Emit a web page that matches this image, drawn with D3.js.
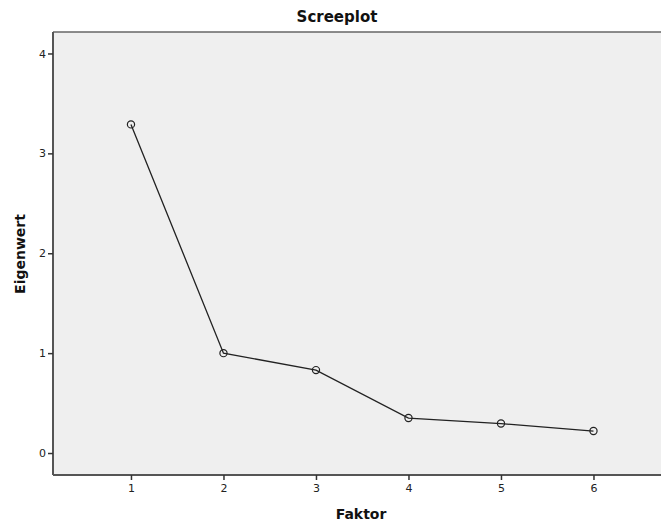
<!DOCTYPE html>
<html>
<head>
<meta charset="utf-8">
<script src="https://cdn.jsdelivr.net/npm/d3@7"></script>
<style>
  body { margin: 0; background: #fff; }
  svg { display: block; font-family: "DejaVu Sans", sans-serif; }
</style>
</head>
<body>
<svg id="chart" width="661" height="524"></svg>
<script>
const factors = [1, 2, 3, 4, 5, 6];
const eigenvalues = [3.29, 1.0, 0.83, 0.35, 0.295, 0.22];
const yTicks = [0, 1, 2, 3, 4];

const w = 661, h = 524;
const margin = {top: 32, right: 0, bottom: 49, left: 53};
const innerW = w - margin.left - margin.right;
const innerH = h - margin.top - margin.bottom;

const svg = d3.select('#chart');

const x = d3.scaleLinear().domain([0.157, 6.73]).range([0, innerW]);
const y = d3.scaleLinear().domain([-0.22, 4.215]).range([innerH, 0]);

const g = svg.append('g').attr('transform', `translate(${margin.left},${margin.top})`);

// plot background
g.append('rect')
    .attr('width', innerW + 2)
    .attr('height', innerH)
    .attr('fill', '#efefef');

// top frame line
g.append('line')
    .attr('x1', 0).attr('x2', innerW + 2)
    .attr('y1', 0).attr('y2', 0)
    .attr('stroke', '#666').attr('stroke-width', 1.5);

// axes
const xAxis = g.append('g')
    .attr('transform', `translate(0,${innerH})`)
    .call(d3.axisBottom(x).tickValues(factors).tickSize(5).tickPadding(4).tickFormat(d3.format('d')));

const yAxis = g.append('g')
    .call(d3.axisLeft(y).tickValues(yTicks).tickSize(5).tickPadding(2).tickFormat(d3.format('d')));

[xAxis, yAxis].forEach(ax => {
    ax.select('.domain').attr('stroke', '#555').attr('stroke-width', 2);
    ax.selectAll('.tick line').attr('stroke', '#333').attr('stroke-width', 1.5);
    ax.selectAll('.tick text')
        .attr('fill', '#222')
        .style('font-size', '11px')
        .style('font-family', '"DejaVu Sans", sans-serif');
});
xAxis.select('.domain').attr('d', `M0,0H${innerW + 2}`);
yAxis.select('.domain').attr('d', `M0,0V${innerH}`);

// line + markers
const line = d3.line()
    .x((d, i) => x(factors[i]))
    .y(d => y(d));

g.append('path')
    .datum(eigenvalues)
    .attr('d', line)
    .attr('fill', 'none')
    .attr('stroke', '#222')
    .attr('stroke-width', 1.3);

g.selectAll('circle.pt')
    .data(eigenvalues)
    .join('circle')
    .attr('class', 'pt')
    .attr('cx', (d, i) => x(factors[i]))
    .attr('cy', d => y(d))
    .attr('r', 3.6)
    .attr('fill', 'none')
    .attr('stroke', '#222')
    .attr('stroke-width', 1.2);

// titles
svg.append('text')
    .attr('x', 337).attr('y', 22)
    .attr('text-anchor', 'middle')
    .style('font-size', '15px')
    .style('font-weight', 'bold')
    .attr('fill', '#111')
    .text('Screeplot');

svg.append('text')
    .attr('x', 361).attr('y', 519)
    .attr('text-anchor', 'middle')
    .style('font-size', '14px')
    .style('font-weight', 'bold')
    .attr('fill', '#111')
    .text('Faktor');

svg.append('text')
    .attr('transform', `translate(25,254) rotate(-90)`)
    .attr('text-anchor', 'middle')
    .style('font-size', '14px')
    .style('font-weight', 'bold')
    .attr('fill', '#111')
    .text('Eigenwert');
</script>
</body>
</html>
